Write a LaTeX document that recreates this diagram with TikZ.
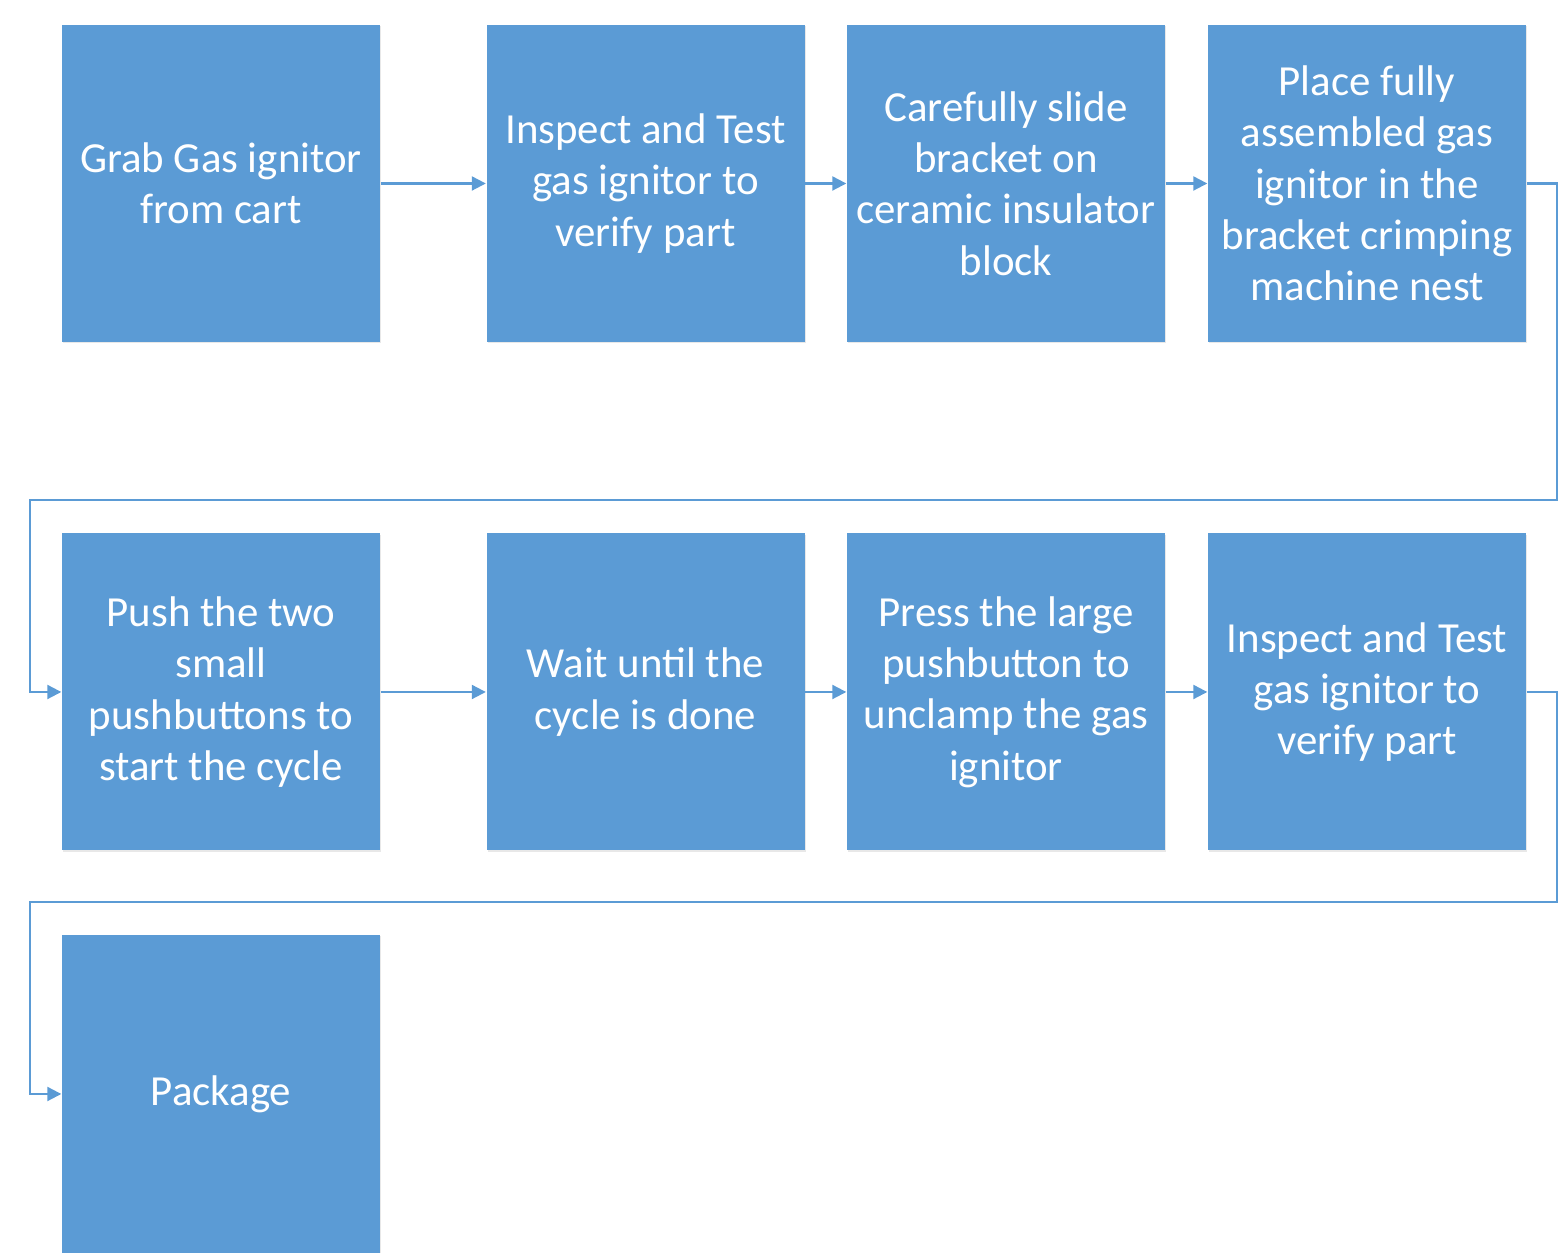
\documentclass[tikz,border=0pt]{standalone}
\usepackage{fontspec}
\setmainfont{Carlito}
\usetikzlibrary{arrows.meta,calc,shadows}
\definecolor{stepblue}{HTML}{5B9BD5}
\tikzset{
  stepbox/.style={fill=stepblue, text=white,
    drop shadow={opacity=0.18, shadow xshift=0.4pt, shadow yshift=-0.4pt},
    minimum width=3.18cm, minimum height=3.17cm, align=center, inner sep=0pt,
    font=\fontsize{12.2}{14.6}\selectfont},
  link/.style={draw=stepblue, line width=0.6pt, -{Triangle[length=1.4mm,width=1.4mm]}}
}
\begin{document}
\begin{tikzpicture}
  \useasboundingbox (0,0) rectangle (15.67,12.53);
  % first row
  \node[stepbox] (grab) at (2.21,10.695) {Grab Gas ignitor\\from cart};
  \node[stepbox] (testA) at (6.455,10.695) {Inspect and Test\\gas ignitor to\\verify part};
  \node[stepbox] (slide) at (10.06,10.695) {Carefully slide\\bracket on\\ceramic insulator\\block};
  \node[stepbox] (place) at (13.67,10.695) {Place fully\\assembled gas\\ignitor in the\\bracket crimping\\machine nest};
  % second row
  \node[stepbox] (push) at (2.21,5.61) {Push the two\\small\\pushbuttons to\\start the cycle};
  \node[stepbox] (wait) at (6.455,5.61) {Wait until the\\cycle is done};
  \node[stepbox] (press) at (10.06,5.61) {Press the large\\pushbutton to\\unclamp the gas\\ignitor};
  \node[stepbox] (testB) at (13.67,5.61) {Inspect and Test\\gas ignitor to\\verify part};
  % third row
  \node[stepbox, minimum height=3.18cm] (pack) at (2.21,1.59) {Package};

  \draw[link] (grab) -- (testA);
  \draw[link] (testA) -- (slide);
  \draw[link] (slide) -- (place);
  \draw[link] (place.east) -| (15.57,7.53) -| (0.30,5.61) -- (push.west);
  \draw[link] (push) -- (wait);
  \draw[link] (wait) -- (press);
  \draw[link] (press) -- (testB);
  \draw[link] (testB.east) -| (15.57,3.51) -| (0.30,1.59) -- (pack.west);
\end{tikzpicture}
\end{document}
